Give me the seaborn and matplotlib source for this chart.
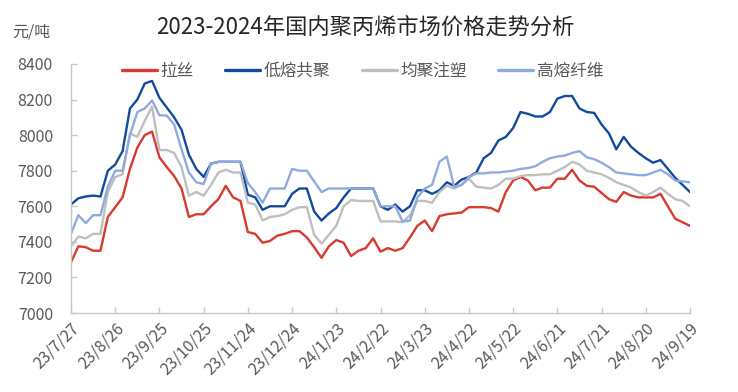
import pandas as pd
import matplotlib
matplotlib.use("Agg")
import matplotlib.pyplot as plt
import seaborn as sns

# ---- data (sampled every 5 days from 2023-07-27 to 2024-09-19) ----
start_date = "2023-07-27"
lasi = [7285, 7375, 7370, 7350, 7350, 7540, 7595, 7650, 7810, 7930,
        8000, 8020, 7875, 7820, 7770, 7700, 7540, 7555, 7555, 7600,
        7640, 7715, 7650, 7630, 7455, 7445, 7395, 7405, 7435, 7445,
        7460, 7460, 7425, 7370, 7310, 7375, 7410, 7395, 7320, 7350,
        7365, 7420, 7345, 7365, 7350, 7365, 7425, 7490, 7520, 7460,
        7545, 7555, 7560, 7565, 7595, 7595, 7595, 7590, 7570, 7680,
        7745, 7765, 7745, 7690, 7705, 7705, 7755, 7755, 7805, 7745,
        7715, 7710, 7675, 7640, 7625, 7680, 7660, 7650, 7650, 7650,
        7670, 7600, 7530, 7510, 7490]
dirong = [7610, 7645, 7655, 7660, 7655, 7800, 7835, 7910, 8150, 8200,
          8290, 8305, 8210, 8155, 8100, 8030, 7890, 7810, 7765, 7840,
          7850, 7850, 7850, 7850, 7665, 7650, 7580, 7600, 7600, 7600,
          7670, 7700, 7700, 7570, 7520, 7560, 7590, 7650, 7700, 7700,
          7700, 7700, 7600, 7580, 7610, 7570, 7600, 7690, 7690, 7670,
          7690, 7735, 7715, 7750, 7765, 7790, 7870, 7900, 7970, 7990,
          8040, 8130, 8120, 8105, 8105, 8130, 8205, 8220, 8220, 8150,
          8130, 8125, 8060, 8010, 7920, 7990, 7935, 7900, 7870, 7845,
          7860, 7810, 7760, 7720, 7680]
junju = [7375, 7430, 7420, 7445, 7445, 7680, 7765, 7780, 8010, 7990,
         8080, 8160, 7916, 7916, 7900, 7820, 7660, 7680, 7660, 7720,
         7790, 7805, 7790, 7790, 7620, 7610, 7520, 7540, 7545, 7555,
         7580, 7595, 7595, 7440, 7390, 7440, 7490, 7600, 7635, 7630,
         7630, 7630, 7515, 7515, 7515, 7510, 7550, 7630, 7630, 7620,
         7680, 7715, 7700, 7720, 7755, 7710, 7705, 7700, 7720, 7755,
         7755, 7770, 7775, 7775, 7780, 7780, 7800, 7820, 7850, 7835,
         7800, 7790, 7780, 7760, 7735, 7720, 7705, 7680, 7660, 7680,
         7705, 7670, 7640, 7630, 7600]
gaorong = [7445, 7550, 7505, 7550, 7550, 7710, 7800, 7800, 8000, 8130,
           8150, 8195, 8112, 8110, 8060, 7920, 7790, 7735, 7725, 7840,
           7850, 7850, 7850, 7850, 7730, 7680, 7620, 7700, 7700, 7700,
           7810, 7800, 7800, 7740, 7680, 7700, 7700, 7700, 7700, 7700,
           7700, 7700, 7600, 7600, 7600, 7515, 7520, 7650, 7700, 7720,
           7850, 7880, 7710, 7720, 7765, 7785, 7785, 7790, 7790, 7795,
           7800, 7810, 7815, 7825, 7850, 7870, 7880, 7885, 7900, 7910,
           7875, 7865, 7845, 7820, 7790, 7785, 7780, 7775, 7775, 7790,
           7805, 7780, 7745, 7740, 7735]
series_names = ["拉丝", "低熔共聚", "均聚注塑", "高熔纤维"]
colors = ["#D93A2E", "#114B9B", "#BFBFBF", "#8FAADC"]
tick_labels = ["23/7/27", "23/8/26", "23/9/25", "23/10/25", "23/11/24",
               "23/12/24", "24/1/23", "24/2/22", "24/3/23", "24/4/22",
               "24/5/22", "24/6/21", "24/7/21", "24/8/20", "24/9/19"]
title = "2023-2024年国内聚丙烯市场价格走势分析"
unit = "元/吨"

dates = pd.date_range(start_date, periods=len(lasi), freq="5D")
wide = pd.DataFrame({"date": dates, series_names[0]: lasi, series_names[1]: dirong,
                     series_names[2]: junju, series_names[3]: gaorong})
df = wide.melt(id_vars="date", var_name="品种", value_name="价格")

sns.set_theme(style="white")
plt.rcParams["font.family"] = ["Noto Sans CJK SC", "DejaVu Sans"]

W, H = 738, 392
fig = plt.figure(figsize=(W / 100, H / 100), dpi=100)
ax = fig.add_axes([71 / W, 1 - 313 / H, (690 - 71) / W, (313 - 64) / H])

sns.lineplot(data=df, x="date", y="价格", hue="品种", hue_order=series_names,
             palette=colors, linewidth=1.7, ax=ax, legend=True)

ax.set_xlim(dates[0], dates[-1])
ax.set_ylim(7000, 8400)
ax.set_yticks(range(7000, 8401, 200))
tick_dates = pd.date_range(start_date, periods=len(tick_labels), freq="30D")
ax.set_xticks(tick_dates)
ax.set_xticklabels(tick_labels, rotation=45, ha="right", rotation_mode="anchor")
ax.set_xlabel("")
ax.set_ylabel("")

for s in ["top", "right"]:
    ax.spines[s].set_visible(False)
for s in ["left", "bottom"]:
    ax.spines[s].set_color("#C8C8C8")
    ax.spines[s].set_linewidth(1.0)
ax.tick_params(axis="both", direction="in", length=4, width=1, color="#C8C8C8",
               labelcolor="#595959", labelsize=11.5)
ax.tick_params(axis="y", pad=13, left=True)
ax.tick_params(axis="x", pad=5, bottom=True)
ax.grid(False)

handles, labels = ax.get_legend_handles_labels()
for h in handles:
    h.set_linewidth(2.4)
ax.legend(handles, labels, ncol=4, loc="center", bbox_to_anchor=(0.471, 0.97),
          frameon=False, fontsize=12, handlelength=2.1, handletextpad=0.2,
          columnspacing=1.9, labelcolor="#595959")

fig.text(0.495, 1 - 27 / H, title, ha="center", va="center", fontsize=16,
         color="#262626")
fig.text(12 / W, 1 - 32 / H, unit, ha="left", va="center", fontsize=11.5,
         color="#595959")

fig.savefig("out.png", dpi=100)
